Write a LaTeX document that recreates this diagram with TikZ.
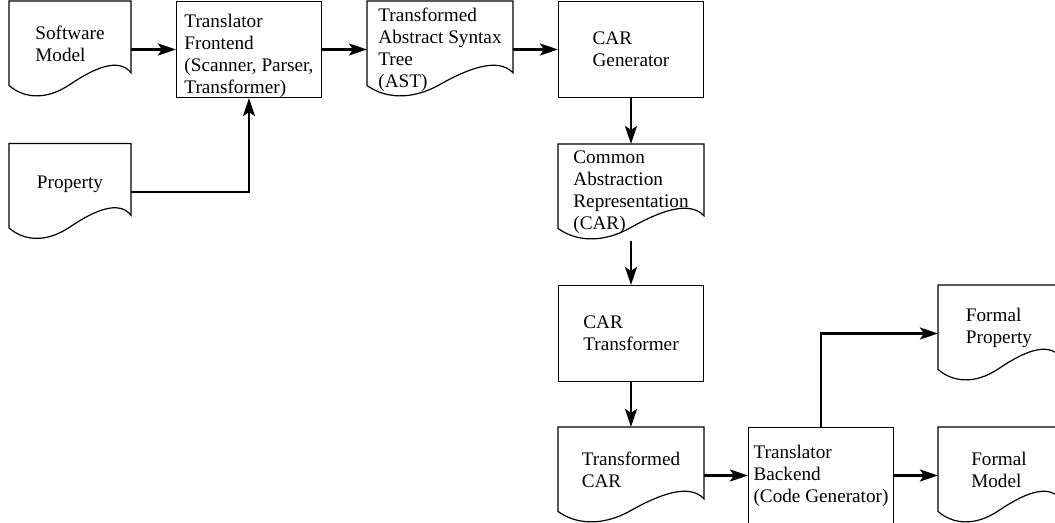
\documentclass[tikz,border=0pt]{standalone}
\usepackage{fontspec}
\setmainfont{Liberation Serif}
\usetikzlibrary{arrows.meta,calc}

\tikzset{
 box/.style={draw,line width=0.55pt,minimum width=72.5pt,minimum height=48pt,inner sep=0pt,align=left,font=\fontsize{9.6pt}{11pt}\selectfont},
 doc/.style={box,draw=none,append after command={\pgfextra{\draw[line width=0.6pt] let \p1=(\tikzlastnode.north west),\p2=(\tikzlastnode.south east),\n1={\x2-\x1},\n2={\y1-\y2} in (\x1,{\y2+0.13*\n2})--(\p1)--(\x2,\y1)--(\x2,{\y2+0.26*\n2}) .. controls ({\x2-0.1*\n1},{\y2+0.42*\n2}) and ({\x1+0.7*\n1},{\y2+0.31*\n2}) .. ({\x1+0.5*\n1},{\y2+0.14*\n2}) .. controls ({\x1+0.3*\n1},{\y2-0.03*\n2}) and ({\x1+0.12*\n1},\y2) .. cycle;}}},
 narrow/.style={minimum width=60.5pt},
 lift/.style={text depth=#1},
 drop/.style={text height=#1},
 flow/.style={line width=1.3pt,-{Stealth[length=9pt,width=6pt,inset=2pt]}},
}

\begin{document}
\begin{tikzpicture}[x=0.5pt,y=-0.5pt]
 \useasboundingbox (0,0) rectangle (1055,523); %枠
 \clip (0,0) rectangle (1055,523);
 \node[doc,narrow,lift=5.5pt] (swmodel) at (70,49.5) {Software\\Model}; %入力
 \node[doc,narrow,lift=10pt] (property) at (70,192) {Property};
 \node[box,drop=46pt] (frontend) at (249,49.5) {Translator\\Frontend\\(Scanner, Parser,\\Transformer)};
 \node[doc] (ast) at (440,49.5) {Transformed\\Abstract Syntax\\Tree\\(AST)};
 \node[box] (cargen) at (631,49.5) {CAR\\Generator};
 \node[doc] (cardoc) at (631,192.5) {Common\\Abstraction\\Representation\\(CAR)};
 \node[box] (cartrans) at (631,333.5) {CAR\\Transformer};
 \node[doc,lift=5.5pt] (tcar) at (631,475.5) {Transformed\\CAR};
 \node[box] (backend) at (821,475.5) {Translator\\Backend\\(Code Generator)};
 \node[doc,narrow,lift=7.5pt] (fprop) at (999,333.5) {Formal\\Property}; %出力
 \node[doc,narrow,lift=5.5pt] (fmodel) at (999,475.5) {Formal\\Model};
 \draw[flow] (swmodel) -- (frontend);
 \draw[flow] (property.east) -| (frontend.south);
 \draw[flow] (frontend) -- (ast);
 \draw[flow] (ast) -- (cargen);
 \draw[flow] (cargen) -- (cardoc);
 \draw[flow] (cardoc) -- (cartrans);
 \draw[flow] (cartrans) -- (tcar);
 \draw[flow] (tcar) -- (backend);
 \draw[flow] (backend) -- (fmodel);
 \draw[flow] (backend.north) |- (fprop.west);
\end{tikzpicture}
\end{document}
